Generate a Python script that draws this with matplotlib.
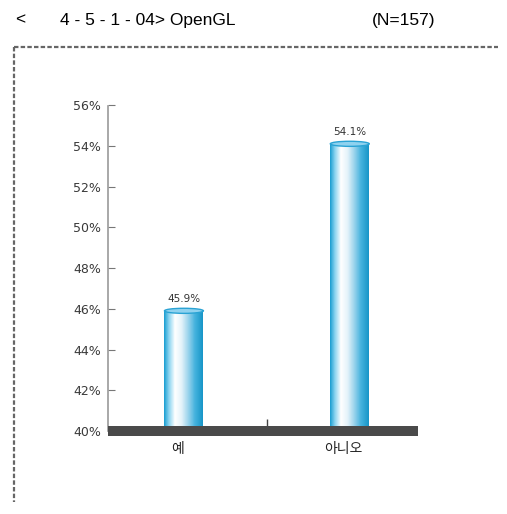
import numpy as np
import matplotlib
matplotlib.use('Agg')
import matplotlib.pyplot as plt
from matplotlib.colors import LinearSegmentedColormap
from matplotlib.patches import Ellipse
from matplotlib.lines import Line2D

plt.rcParams['font.family'] = ['DejaVu Sans', 'Noto Sans CJK KR']

# data
categories = ['예', '아니오']
values = [45.9, 54.1]
value_labels = ['45.9%', '54.1%']
y_ticks = [40, 42, 44, 46, 48, 50, 52, 54, 56]
y_tick_labels = ['40%', '42%', '44%', '46%', '48%', '50%', '52%', '54%', '56%']

fig = plt.figure(figsize=(5.07, 5.14), dpi=100)
ax = fig.add_axes([0.213, 0.1615, 0.611, 0.634])

x = np.arange(len(categories))
bar_w = 0.235
bars = ax.bar(x, np.array(values) - 40, bottom=40, width=bar_w, color='#5cc0e6', zorder=2)

# cylinder-like gradient fill
cmap = LinearSegmentedColormap.from_list('cyl', [
    (0.0, '#1c9fd2'), (0.12, '#8ad4f0'), (0.28, '#ffffff'), (0.45, '#e4f3fa'),
    (0.6, '#a6d8ee'), (0.8, '#45b3de'), (1.0, '#1896c8')])
grad = np.linspace(0, 1, 64).reshape(1, -1)
for b, v in zip(bars, values):
    x0 = b.get_x()
    im = ax.imshow(grad, cmap=cmap, aspect='auto', extent=[x0, x0 + bar_w, 40, v],
                   zorder=3, interpolation='bilinear')
    im.set_clip_path(b)
    ax.add_patch(Ellipse((x0 + bar_w / 2, v), bar_w, 0.25, facecolor='#8fd2ef',
                         edgecolor='#2aa3d4', lw=1, zorder=4))

for xi, v, lab in zip(x, values, value_labels):
    ax.text(xi, v + 0.35, lab, ha='center', va='bottom', fontsize=7.5, color='#333333')

ax.set_xlim(-0.458, 1.41)
ax.set_ylim(40, 56)
ax.set_yticks(y_ticks)
ax.set_yticklabels(y_tick_labels, fontsize=9, color='#3a3a3a')
ax.set_xticks(x - 0.04)
ax.set_xticklabels(categories, fontsize=10, color='#222222',
                   family=['Noto Sans CJK KR', 'DejaVu Sans'])
ax.set_xticks([0.5], minor=True)
ax.tick_params(axis='x', which='major', length=0, pad=8)
ax.tick_params(axis='x', which='minor', direction='in', length=9, width=1, color='#444444')
ax.tick_params(axis='y', direction='in', length=5, width=0.8, color='#777777', pad=5)

for s in ['top', 'right']:
    ax.spines[s].set_visible(False)
ax.spines['left'].set_color('#999999')
ax.spines['left'].set_linestyle((0, (1, 1)))
ax.spines['left'].set_linewidth(1.2)
ax.spines['bottom'].set_color('#4a4a4a')
ax.spines['bottom'].set_linewidth(7.2)
ax.spines['bottom'].set_capstyle('butt')
ax.spines['bottom'].set_zorder(5)

# header and frame
hdr = dict(fontsize=12.5, va='center', family='Liberation Sans')
fig.text(15 / 507, 1 - 20 / 514, '<', **hdr)
fig.text(60 / 507, 1 - 20 / 514, '4 - 5 - 1 - 04> OpenGL', **hdr)
fig.text(372 / 507, 1 - 20 / 514, '(N=157)', **hdr)
fig.add_artist(Line2D([14 / 507, 498 / 507], [1 - 47 / 514, 1 - 47 / 514],
                      color='#666666', lw=1.6, ls=(0, (2, 1))))
fig.add_artist(Line2D([14 / 507, 14 / 507], [1 - 47 / 514, 1 - 502 / 514],
                      color='#666666', lw=1.6, ls=(0, (2, 1))))

fig.savefig('out.png', dpi=100)
